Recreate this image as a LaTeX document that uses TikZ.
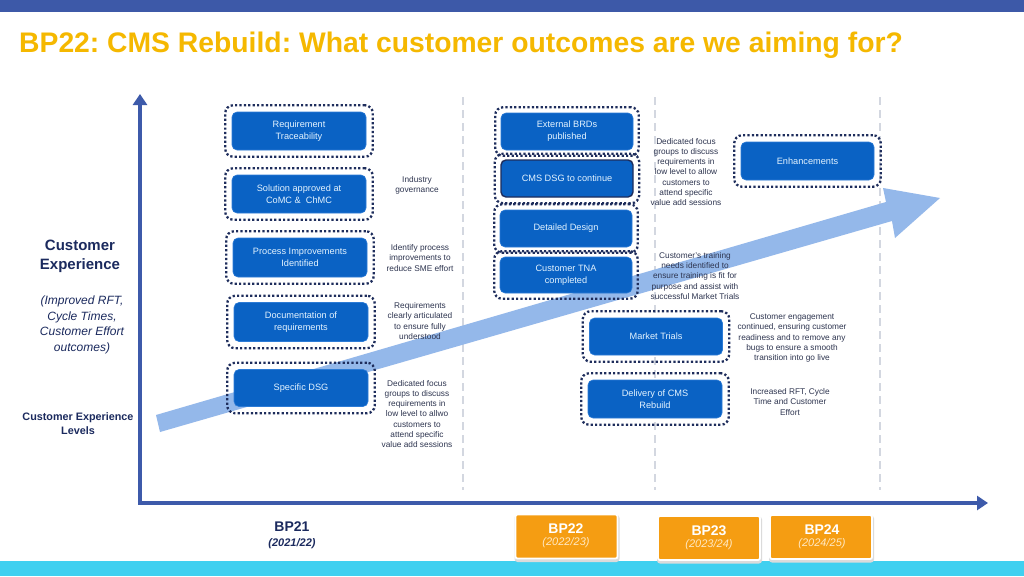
\documentclass[tikz,border=0pt]{standalone}
\usepackage{fontspec}
\setmainfont{Liberation Sans}
\frenchspacing
\usetikzlibrary{fit,arrows.meta}
\definecolor{topbar}{HTML}{3D59A8}
\definecolor{botbar}{HTML}{40D0F0}
\definecolor{titlecol}{HTML}{F5B800}
\definecolor{axiscol}{HTML}{3D5AAA}
\definecolor{boxfill}{HTML}{0A62C4}
\definecolor{boxline}{HTML}{2C7BD6}
\definecolor{dotcol}{HTML}{1E2D5C}
\definecolor{sidecol}{HTML}{2E3550}
\definecolor{navy}{HTML}{1B2A5E}
\definecolor{bigarrow}{HTML}{94B8EA}
\definecolor{orangebox}{HTML}{F59D12}
\definecolor{gridcol}{HTML}{D3D7E0}
\definecolor{boxtext}{HTML}{E3F3FF}
\definecolor{yeartext}{HTML}{FFE8C2}
\tikzset{
  bluebox/.style={rectangle, rounded corners=5pt, fill=boxfill, draw=boxline, line width=0.6pt,
    text=boxtext, align=center, font=\fontsize{9.2}{12}\selectfont, inner sep=0pt},
  dotbox/.style={rectangle, rounded corners=8pt, draw=dotcol, line width=2.3pt,
    dash pattern=on 2.2pt off 2.2pt, inner sep=6.5pt},
  sidetxt/.style={align=center, text=sidecol, font=\fontsize{8.3}{10.2}\selectfont, inner sep=0pt},
  axisline/.style={draw=axiscol, line width=4.5pt, -{Triangle[length=11pt,width=14pt]}},
  gridline/.style={draw=gridcol, line width=1.6pt, dash pattern=on 8pt off 5pt},
  yearbox/.style={rectangle, rounded corners=2pt, fill=orangebox, draw=white, line width=1.8pt,
    minimum width=102pt, minimum height=44pt, inner sep=0pt},
  yearshadow/.style={rectangle, rounded corners=3pt, fill=black!14,
    minimum width=105pt, minimum height=47pt, inner sep=0pt}
}
\begin{document}
\begin{tikzpicture}[x=1pt,y=-1pt]
\useasboundingbox (0,0) rectangle (1024,576);
\fill[white] (0,0) rectangle (1024,576);
\fill[topbar] (0,0) rectangle (1024,12);
\fill[botbar] (0,561) rectangle (1024,576);

% title
\node[anchor=west, text=titlecol, font=\bfseries\fontsize{28.3}{31}\selectfont, inner sep=0pt] (title) at (19,45) {BP22: CMS Rebuild: What customer outcomes are we aiming for?};

% grid lines
\coordinate (g1t) at (463,97); \coordinate (g1b) at (463,490);
\coordinate (g2t) at (655,97); \coordinate (g2b) at (655,490);
\coordinate (g3t) at (880,97); \coordinate (g3b) at (880,490);
\draw[gridline] (g1t) -- (g1b);
\draw[gridline] (g2t) -- (g2b);
\draw[gridline] (g3t) -- (g3b);

% big arrow
\fill[bigarrow] (156,415) -- (886,202) -- (883,188) -- (940,198) -- (895,238) -- (892,221) -- (160,432) -- cycle;

% axes
\coordinate (origin) at (140,503);
\coordinate (ytop) at (140,94);
\coordinate (xend) at (988,503);
\draw[axisline] (origin) -- (ytop);
\draw[axisline] ([xshift=-2.2pt]origin) -- (xend);

% left labels
\node[align=center, text=navy, font=\bfseries\fontsize{15}{19}\selectfont] (cx) at (80,256) {Customer\\Experience};
\node[align=center, text=navy, font=\itshape\fontsize{12}{15.5}\selectfont] (imp) at (82,325) {(Improved RFT,\\Cycle Times,\\Customer Effort\\outcomes)};
\node[align=center, text=navy, font=\bfseries\fontsize{10.8}{14}\selectfont] (cxl) at (78,424) {Customer Experience\\Levels};

% column 1 boxes
\node[bluebox, minimum width=134pt, minimum height=38pt] (n1) at (299,131) {Requirement\\Traceability};
\node[bluebox, minimum width=134pt, minimum height=38pt] (n2) at (299,194) {Solution approved at\\CoMC \&\ \ ChMC};
\node[bluebox, minimum width=134pt, minimum height=39pt] (n3) at (300,257.5) {Process Improvements\\Identified};
\node[bluebox, minimum width=134pt, minimum height=39pt] (n4) at (301,322) {Documentation of\\requirements};
\node[bluebox, minimum width=134pt, minimum height=37pt] (n5) at (301,388) {Specific DSG};
\foreach \n in {n1,n2,n3,n4,n5} \node[dotbox, fit=(\n)] (f\n) {};

% column 2 boxes
\node[bluebox, minimum width=132pt, minimum height=37pt] (n6) at (567,131.5) {External BRDs\\published};
\node[bluebox, minimum width=132pt, minimum height=37pt, draw=dotcol, line width=1.4pt] (n7) at (567,178.5) {CMS DSG to continue};
\node[bluebox, minimum width=132pt, minimum height=37pt] (n8) at (566,228.5) {Detailed Design};
\node[bluebox, minimum width=132pt, minimum height=36pt] (n9) at (566,275) {Customer TNA\\completed};
\foreach \n in {n6,n7,n8,n9} \node[dotbox, fit=(\n), inner sep=5.5pt] (f\n) {};

% column 3 boxes
\node[bluebox, minimum width=133pt, minimum height=37pt] (n10) at (656,336.5) {Market Trials};
\node[bluebox, minimum width=134pt, minimum height=38pt] (n11) at (655,399) {Delivery of CMS\\Rebuild};
\node[bluebox, minimum width=133pt, minimum height=38pt] (n12) at (807.5,161) {Enhancements};
\foreach \n in {n10,n11,n12} \node[dotbox, fit=(\n)] (f\n) {};

% side texts
\node[sidetxt] (s1) at (417,185) {Industry\\governance};
\node[sidetxt] (s2) at (420,258) {Identify process\\improvements to\\reduce SME effort};
\node[sidetxt] (s3) at (420,321) {Requirements\\clearly articulated\\to ensure fully\\understood};
\node[sidetxt] (s4) at (417,414) {Dedicated focus\\groups to discuss\\requirements in\\low level to allwo\\customers to\\attend specific\\value add sessions};
\node[sidetxt] (s5) at (686,172) {Dedicated focus\\groups to discuss\\requirements in\\low level to allow\\customers to\\attend specific\\value add sessions};
\node[sidetxt] (s6) at (695,276) {Customer's training\\needs identified to\\ensure training is fit for\\purpose and assist with\\successful Market Trials};
\node[sidetxt] (s7) at (792,338) {Customer engagement\\continued, ensuring customer\\readiness and to remove any\\bugs to ensure a smooth\\transition into go live};
\node[sidetxt] (s8) at (790,402) {Increased RFT, Cycle\\Time and Customer\\Effort};

% bottom labels
\node[align=center, text=navy, font=\bfseries\fontsize{14}{17}\selectfont] (bp21) at (292,527) {BP21};
\node[align=center, text=navy, font=\bfseries\itshape\fontsize{11}{13}\selectfont] (y21) at (292,544) {(2021/22)};

\node[yearshadow] (b22s) at (567,538.5) {};
\node[yearbox] (b22) at (566.5,536.5) {};
\node[text=white, font=\bfseries\fontsize{14}{17}\selectfont] (b22t) at (566,529) {BP22};
\node[text=yeartext, font=\itshape\fontsize{11}{13}\selectfont] (b22y) at (566,543) {(2022/23)};

\node[yearshadow] (b23s) at (709.5,540) {};
\node[yearbox] (b23) at (709,538) {};
\node[text=white, font=\bfseries\fontsize{14}{17}\selectfont] (b23t) at (709,531) {BP23};
\node[text=yeartext, font=\itshape\fontsize{11}{13}\selectfont] (b23y) at (709,545) {(2023/24)};

\node[yearshadow] (b24s) at (821.5,539) {};
\node[yearbox] (b24) at (821,537) {};
\node[text=white, font=\bfseries\fontsize{14}{17}\selectfont] (b24t) at (822,530) {BP24};
\node[text=yeartext, font=\itshape\fontsize{11}{13}\selectfont] (b24y) at (822,544) {(2024/25)};
\end{tikzpicture}
\end{document}
